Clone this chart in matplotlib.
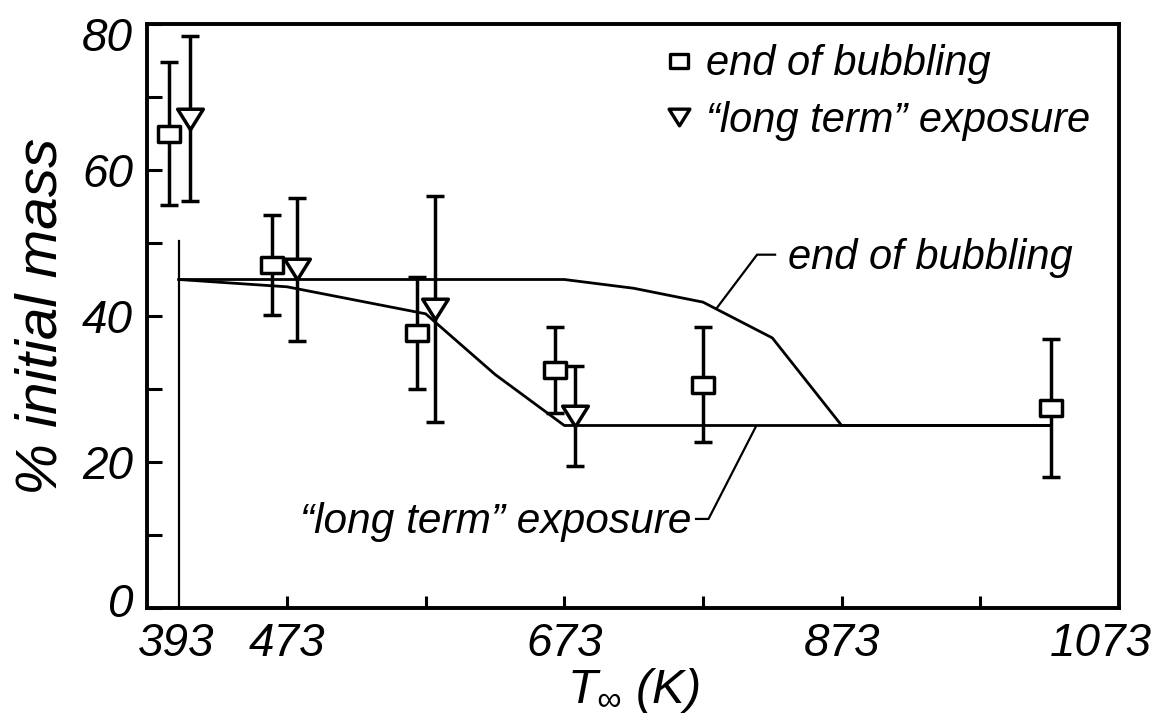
import matplotlib
matplotlib.use("Agg")
import matplotlib.pyplot as plt
from matplotlib.path import Path
from matplotlib.lines import Line2D
from matplotlib.ticker import FixedLocator
from matplotlib.transforms import ScaledTranslation

plt.rcParams['font.family'] = ['Liberation Sans', 'DejaVu Sans']
plt.rcParams['font.style'] = 'italic'
plt.rcParams['mathtext.fontset'] = 'custom'
plt.rcParams['mathtext.it'] = 'Liberation Sans:italic'
plt.rcParams['mathtext.rm'] = 'Liberation Sans:italic'
plt.rcParams['mathtext.default'] = 'it'

# Measured residual mass: end of bubbling
bub_T = [388, 462, 567, 666, 773, 1024]
bub_mass = [65.0, 47.0, 37.7, 32.6, 30.6, 27.4]
bub_err = [9.8, 6.8, 7.7, 5.9, 7.9, 9.5]

# Measured residual mass: "long term" exposure
exp_T = [403, 480, 580, 681]
exp_mass = [67.0, 46.4, 41.0, 26.3]
exp_err = [11.3, 9.8, 15.5, 6.9]

# Model curves
bub_curve_T = [395, 673, 723, 773, 823, 873, 1024]
bub_curve_mass = [45, 45, 43.8, 41.9, 37.0, 25, 25]
exp_curve_T = [395, 473, 573, 623, 673, 1024]
exp_curve_mass = [45, 44, 40.3, 32.0, 25, 25]

# Initial-temperature marker line
T_start = 395
start_line_top = 50.3

x_tick_vals = [393, 473, 673, 873, 1073]
x_tick_labels = ['393', '473', '673', '873', '1073']
x_minor_vals = [473, 573, 673, 773, 873, 973]
y_tick_vals = [0, 20, 40, 60, 80]
y_minor_vals = [10, 30, 50, 70]

# Marker shapes: flat rectangle and wide down-pointing triangle
rect_marker = Path([(-0.5, -0.37), (0.5, -0.37), (0.5, 0.37), (-0.5, 0.37), (-0.5, -0.37)],
                   [Path.MOVETO, Path.LINETO, Path.LINETO, Path.LINETO, Path.CLOSEPOLY])
tri_marker = Path([(0, -0.4), (0.5, 0.4), (-0.5, 0.4), (0, -0.4)],
                  [Path.MOVETO, Path.LINETO, Path.LINETO, Path.CLOSEPOLY])

fig = plt.figure(figsize=(11.58, 7.19), dpi=100)
ax = fig.add_axes([0.1269, 0.1544, 0.9663 - 0.1269, 0.9666 - 0.1544])

lw_curve = 2.0
ax.plot([T_start, T_start], [0, start_line_top], color='black', lw=1.6, zorder=2)
ax.plot(bub_curve_T, bub_curve_mass, color='black', lw=lw_curve, zorder=2)
ax.plot(exp_curve_T, exp_curve_mass, color='black', lw=lw_curve, zorder=2)

eb_kw = dict(ls='none', mfc='white', mec='black', mew=2.5, ecolor='black',
             elinewidth=2.5, capsize=6.5, capthick=2.5, zorder=3)
ax.errorbar(bub_T, bub_mass, yerr=bub_err, marker=rect_marker, ms=16, **eb_kw)
ax.errorbar(exp_T, exp_mass, yerr=exp_err, marker=tri_marker, ms=18.5, **eb_kw)

# Leader lines and curve labels
ax.plot([783, 812, 825], [41.1, 48.4, 48.4], color='black', lw=1.6)
ax.text(834, 48.0, 'end of bubbling', fontsize=30, va='center', ha='left')
ax.plot([811, 777, 768], [24.8, 12.2, 12.2], color='black', lw=1.6)
ax.text(765, 11.8, '\u201clong term\u201d exposure', fontsize=30.5, va='center', ha='right')

handles = [
    Line2D([], [], ls='none', marker=rect_marker, ms=13, mfc='white', mec='black', mew=2.4),
    Line2D([], [], ls='none', marker=tri_marker, ms=15, mfc='white', mec='black', mew=2.4),
]
ax.legend(handles, ['end of bubbling', '\u201clong term\u201d exposure'],
          loc='upper right', bbox_to_anchor=(0.996, 1.008), frameon=False,
          fontsize=30, handlelength=0.8, handletextpad=0.25, labelspacing=0.39,
          borderaxespad=0.2)

ax.set_xlim(372, 1072)
ax.set_ylim(0, 80)

ax.xaxis.remove_overlapping_locs = False
ax.set_xticks(x_tick_vals)
ax.set_xticklabels(x_tick_labels)
ax.xaxis.set_minor_locator(FixedLocator(x_minor_vals))
ax.tick_params(axis='x', which='major', length=0, pad=10, labelsize=33)
ax.tick_params(axis='x', which='minor', direction='in', length=9, width=2.2)

ax.set_yticks(y_tick_vals)
ax.set_yticklabels([str(v) for v in y_tick_vals])
ax.yaxis.set_minor_locator(FixedLocator(y_minor_vals))
ax.tick_params(axis='y', which='both', direction='in', length=11, width=2.2,
               pad=10, labelsize=33)

for s in ax.spines.values():
    s.set_linewidth(2.8)

# Nudge edge labels inside the frame extent
xl = ax.get_xticklabels()
xl[-1].set_transform(xl[-1].get_transform() + ScaledTranslation(-18 / 100, 0, fig.dpi_scale_trans))
yl = ax.get_yticklabels()
yl[0].set_transform(yl[0].get_transform() + ScaledTranslation(0, 8 / 100, fig.dpi_scale_trans))
yl[-1].set_transform(yl[-1].get_transform() + ScaledTranslation(0, -10 / 100, fig.dpi_scale_trans))

ax.set_xlabel(r'$T_{\infty}$ (K)', fontsize=35, labelpad=0)
ax.set_ylabel('% initial mass', fontsize=42, labelpad=10)

fig.savefig('out.png', dpi=100)
